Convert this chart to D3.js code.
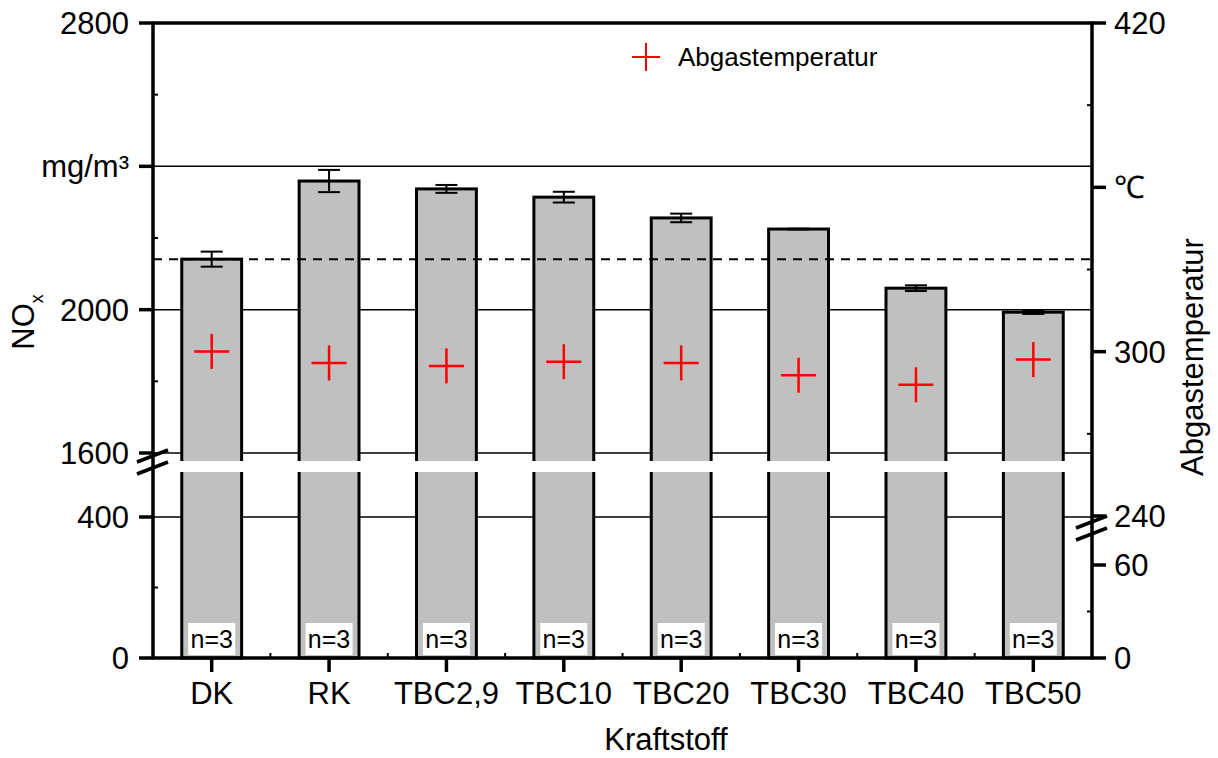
<!DOCTYPE html>
<html>
<head>
<meta charset="utf-8">
<script src="https://cdn.jsdelivr.net/npm/d3@7"></script>
<style>
  body { margin: 0; background: #fff; }
  svg { font-family: "Liberation Sans", Arial, sans-serif; }
</style>
</head>
<body>
<svg id="chart" width="1218" height="758"></svg>
<script>
// data
var fuels = ["DK", "RK", "TBC2,9", "TBC10", "TBC20", "TBC30", "TBC40", "TBC50"];
var noxMean = [2141, 2359, 2337, 2314, 2256, 2225, 2060, 1993];
var noxErr = [21, 31, 11, 15, 12, 1, 8, 5];
var tempMean = [300.1, 295.9, 294.8, 296.3, 295.9, 291.4, 287.9, 297.1];
var nCount = [3, 3, 3, 3, 3, 3, 3, 3];

var leftTicksUp = [1600, 2000, 2400, 2800];
var leftTicksLow = [0, 400];
var rightTicksUp = [240, 300, 360, 420];
var rightTicksLow = [0, 60];

var plotLeft = 153, plotRight = 1092, plotTop = 23, plotBottom = 658;
var gapTop = 461, gapBottom = 472;

var svg = d3.select("#chart");

var x = d3.scaleBand().domain(fuels).range([plotLeft, plotRight]).paddingInner(0.49).paddingOuter(0.245);
var yUp = d3.scaleLinear().domain([1600, 2800]).range([453, plotTop]);
var yLow = d3.scaleLinear().domain([0, 400]).range([plotBottom, 517]);
var tUp = d3.scaleLinear().domain([240, 420]).range([516, plotTop]);
var tLow = d3.scaleLinear().domain([0, 60]).range([plotBottom, 565]);

var rows = fuels.map(function(f, i) {
  return { f: f, v: noxMean[i], e: noxErr[i], t: tempMean[i], n: nCount[i] };
});
var cx = function(f) { return x(f) + x.bandwidth() / 2; };

// grid lines
var gridY = [yUp(2400), yUp(2000), yUp(1600), yLow(400)];
svg.append("g").selectAll("line").data(gridY).enter().append("line")
  .attr("x1", plotLeft).attr("x2", plotRight)
  .attr("y1", function(d) { return d; }).attr("y2", function(d) { return d; })
  .attr("stroke", "#000").attr("stroke-width", 1.5);

// bars
svg.append("g").selectAll("rect").data(rows).enter().append("rect")
  .attr("x", function(d) { return x(d.f); })
  .attr("y", function(d) { return yUp(d.v); })
  .attr("width", x.bandwidth())
  .attr("height", function(d) { return yLow(0) - yUp(d.v); })
  .attr("fill", "#c0c0c0").attr("stroke", "#000").attr("stroke-width", 3);

// break gap through the bars
svg.append("rect").attr("x", plotLeft + 3).attr("y", gapTop)
  .attr("width", plotRight - plotLeft - 6).attr("height", gapBottom - gapTop)
  .attr("fill", "#fff");

// dashed reference line at DK level
svg.append("line")
  .attr("x1", plotLeft).attr("x2", plotRight)
  .attr("y1", yUp(noxMean[0])).attr("y2", yUp(noxMean[0]))
  .attr("stroke", "#000").attr("stroke-width", 2).attr("stroke-dasharray", "9,7");

// error bars
var eb = svg.append("g").selectAll("g").data(rows).enter().append("g")
  .attr("transform", function(d) { return "translate(" + cx(d.f) + ",0)"; });
eb.append("line").attr("x1", 0).attr("x2", 0)
  .attr("y1", function(d) { return yUp(d.v + d.e); })
  .attr("y2", function(d) { return yUp(d.v - d.e); })
  .attr("stroke", "#000").attr("stroke-width", 2);
eb.selectAll(".cap").data(function(d) { return [d.v + d.e, d.v - d.e]; }).enter().append("line")
  .attr("x1", -11).attr("x2", 11)
  .attr("y1", function(d) { return yUp(d); }).attr("y2", function(d) { return yUp(d); })
  .attr("stroke", "#000").attr("stroke-width", 2);

// n=3 labels
var nl = svg.append("g").selectAll("g").data(rows).enter().append("g")
  .attr("transform", function(d) { return "translate(" + cx(d.f) + ",0)"; });
nl.append("rect").attr("x", -23.5).attr("y", 623).attr("width", 47).attr("height", 32).attr("fill", "#fff");
nl.append("text").attr("y", 648).attr("text-anchor", "middle")
  .attr("font-size", 25).text(function(d) { return "n=" + d.n; });

// temperature markers
function plus(g, s) {
  g.append("line").attr("x1", -s).attr("x2", s).attr("y1", 0).attr("y2", 0);
  g.append("line").attr("x1", 0).attr("x2", 0).attr("y1", -s).attr("y2", s);
}
svg.append("g").selectAll("g").data(rows).enter().append("g")
  .attr("transform", function(d) { return "translate(" + cx(d.f) + "," + tUp(d.t) + ")"; })
  .attr("stroke", "#ff0000").attr("stroke-width", 2.5)
  .each(function() { plus(d3.select(this), 17.5); });

// frame
var ax = svg.append("g").attr("stroke", "#000").attr("stroke-width", 3.5);
ax.append("line").attr("x1", plotLeft).attr("x2", plotLeft).attr("y1", plotTop).attr("y2", plotBottom);
ax.append("line").attr("x1", plotRight).attr("x2", plotRight).attr("y1", plotTop).attr("y2", plotBottom);
ax.append("line").attr("x1", plotLeft - 1.5).attr("x2", plotRight + 1.5).attr("y1", plotTop).attr("y2", plotTop);
ax.append("line").attr("x1", plotLeft - 1.5).attr("x2", plotRight + 1.5).attr("y1", plotBottom).attr("y2", plotBottom);

var tickLen = 14;
var fs = 31;

// left axis
var leftLabel = function(d) { return d === 2400 ? "mg/m³" : String(d); };
var lt = leftTicksUp.map(function(d) { return { y: yUp(d), t: leftLabel(d) }; })
  .concat(leftTicksLow.map(function(d) { return { y: yLow(d), t: String(d) }; }));
var lg = svg.append("g").selectAll("g").data(lt).enter().append("g");
lg.append("line").attr("x1", plotLeft - tickLen).attr("x2", plotLeft)
  .attr("y1", function(d) { return d.y; }).attr("y2", function(d) { return d.y; })
  .attr("stroke", "#000").attr("stroke-width", 3.5);
lg.append("text").attr("x", plotLeft - tickLen - 10).attr("y", function(d) { return d.y; })
  .attr("dy", "0.36em").attr("text-anchor", "end").attr("font-size", fs)
  .text(function(d) { return d.t; });

var lm = [yUp(1800), yUp(2200), yUp(2600), yLow(200)];
svg.append("g").selectAll("line").data(lm).enter().append("line")
  .attr("x1", plotLeft).attr("x2", plotLeft + 5)
  .attr("y1", function(d) { return d; }).attr("y2", function(d) { return d; })
  .attr("stroke", "#000").attr("stroke-width", 2);

// right axis
var rightLabel = function(d) { return d === 360 ? "℃" : String(d); };
var rt = rightTicksUp.map(function(d) { return { y: tUp(d), t: rightLabel(d) }; })
  .concat(rightTicksLow.map(function(d) { return { y: tLow(d), t: String(d) }; }));
var rg = svg.append("g").selectAll("g").data(rt).enter().append("g");
rg.append("line").attr("x1", plotRight).attr("x2", plotRight + tickLen)
  .attr("y1", function(d) { return d.y; }).attr("y2", function(d) { return d.y; })
  .attr("stroke", "#000").attr("stroke-width", 3.5);
rg.append("text").attr("x", plotRight + tickLen + 8).attr("y", function(d) { return d.y; })
  .attr("dy", "0.36em").attr("text-anchor", "start").attr("font-size", fs)
  .text(function(d) { return d.t; });

var rm = [tUp(270), tUp(330), tUp(390), tLow(30)];
svg.append("g").selectAll("line").data(rm).enter().append("line")
  .attr("x1", plotRight - 5).attr("x2", plotRight)
  .attr("y1", function(d) { return d; }).attr("y2", function(d) { return d; })
  .attr("stroke", "#000").attr("stroke-width", 2);

// bottom axis
var bx = svg.append("g").selectAll("g").data(fuels).enter().append("g")
  .attr("transform", function(d) { return "translate(" + cx(d) + "," + plotBottom + ")"; });
bx.append("line").attr("y1", 0).attr("y2", tickLen).attr("stroke", "#000").attr("stroke-width", 3.5);
bx.append("text").attr("y", 46).attr("text-anchor", "middle").attr("font-size", fs).text(function(d) { return d; });

var bm = d3.range(1, fuels.length).map(function(i) { return plotLeft + i * x.step(); });
svg.append("g").selectAll("line").data(bm).enter().append("line")
  .attr("x1", function(d) { return d; }).attr("x2", function(d) { return d; })
  .attr("y1", plotBottom - 5).attr("y2", plotBottom)
  .attr("stroke", "#000").attr("stroke-width", 2);

// axis break marks
function breakMarks(bx0, by0) {
  var g = svg.append("g").attr("stroke", "#000").attr("stroke-width", 3.5);
  g.append("line").attr("x1", bx0 - 16).attr("y1", by0 + 1).attr("x2", bx0 + 15).attr("y2", by0 - 11);
  g.append("line").attr("x1", bx0 - 16).attr("y1", by0 + 13).attr("x2", bx0 + 15).attr("y2", by0 + 1);
}
breakMarks(plotLeft, 461);
breakMarks(plotRight, 527);

// axis titles
svg.append("text").attr("x", 666).attr("y", 750).attr("text-anchor", "middle")
  .attr("font-size", fs).text("Kraftstoff");

var nox = svg.append("text").attr("transform", "translate(34,322) rotate(-90)")
  .attr("text-anchor", "middle").attr("font-size", fs);
nox.append("tspan").text("NO");
nox.append("tspan").attr("font-size", 18).attr("dy", 9).text("x");

svg.append("text").attr("transform", "translate(1203,357) rotate(-90)")
  .attr("text-anchor", "middle").attr("font-size", fs).text("Abgastemperatur");

// legend
var leg = svg.append("g").attr("transform", "translate(646,57)");
leg.append("g").attr("stroke", "#ff0000").attr("stroke-width", 2)
  .each(function() { plus(d3.select(this), 14); });
leg.append("text").attr("x", 32).attr("y", 0).attr("dy", "0.36em")
  .attr("font-size", 26).text("Abgastemperatur");
</script>
</body>
</html>
